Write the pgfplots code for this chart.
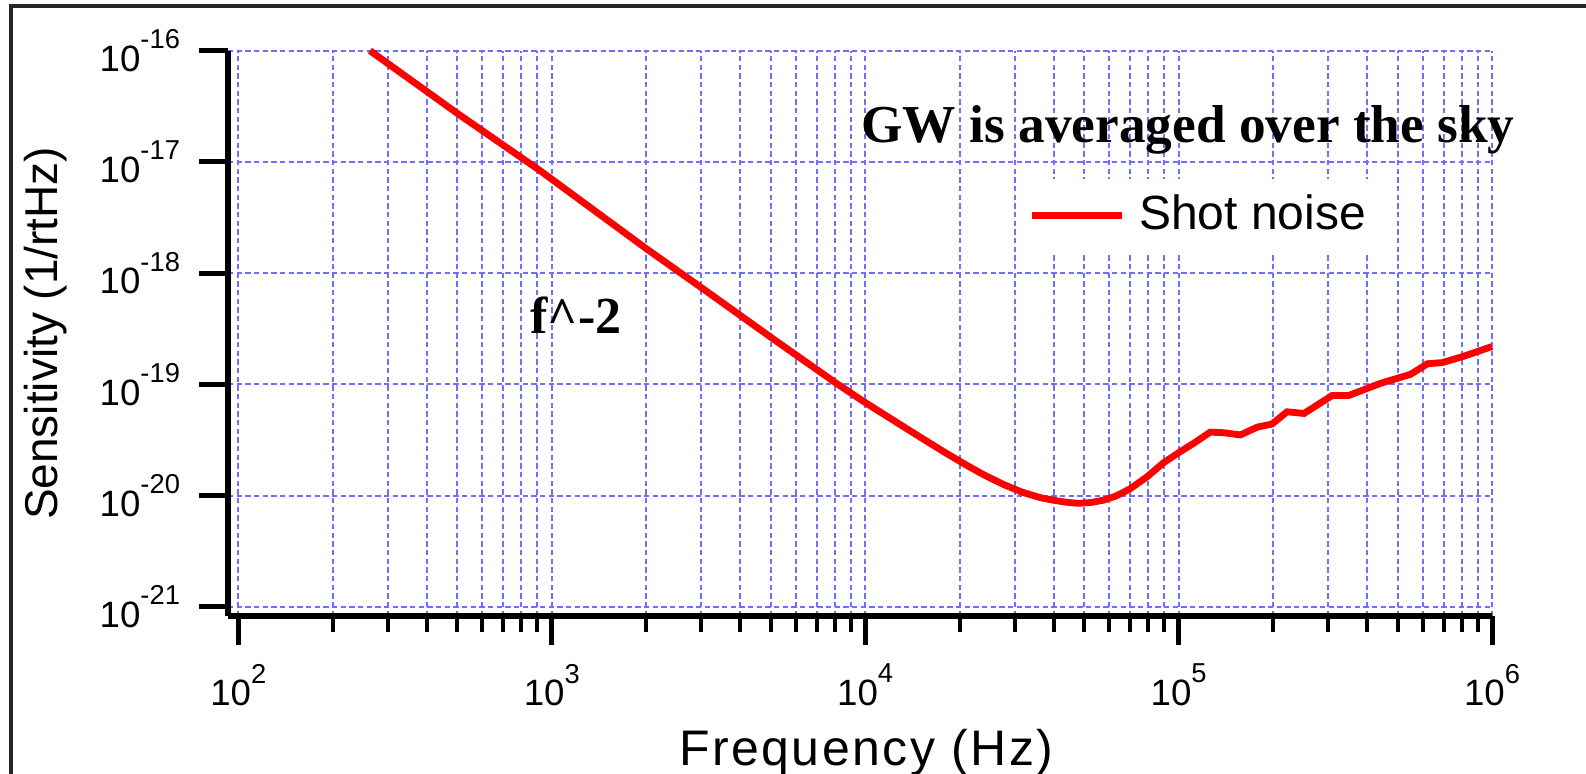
\documentclass[border=0pt]{standalone}
\usepackage{fontspec}
\setmainfont{Liberation Sans}
\newfontfamily\serifbf{Liberation Serif}
\usepackage{pgfplots}
\pgfplotsset{compat=1.18}
\definecolor{gridblue}{RGB}{110,110,255}
\definecolor{curvered}{RGB}{255,0,0}
\newcommand{\pw}[1]{10\raisebox{6.8pt}{\fontsize{8.2}{9}\selectfont #1}}

\begin{document}
\begin{tikzpicture}
\draw[line width=1.2pt, black!85] (3.15pt,-232.2pt) -- (3.15pt,-1.8pt) -- (475.8pt,-1.8pt);
\begin{axis}[
  at={(68.4pt,-184.8pt)}, anchor=south west,
  scale only axis, width=379.2pt, height=169.6pt,
  xmode=log, ymode=log,
  xmin=92.7, xmax=1e6, ymin=8.25e-22, ymax=1e-16,
  axis x line*=bottom, axis y line*=left,
  axis line style={line width=1.6pt, black},
  xtick={1e2,1e3,1e4,1e5,1e6},
  xticklabels={\pw{2},\pw{3},\pw{4},\pw{5},\pw{6}},
  ytick={1e-21,1e-20,1e-19,1e-18,1e-17,1e-16},
  yticklabels={\pw{-21},\pw{-20},\pw{-19},\pw{-18},\pw{-17},\pw{-16}},
  yminorticks=false,
  xtick pos=left, ytick pos=left,
  tick align=outside,
  major tick length=8.7pt, minor tick length=4.75pt,
  major tick style={line width=1.5pt, black},
  minor tick style={line width=1.2pt, black},
  xmajorgrids, xminorgrids, ymajorgrids,
  major grid style={gridblue, line width=0.6pt, dash pattern=on 1.6pt off 1pt},
  minor grid style={gridblue, line width=0.6pt, dash pattern=on 1.6pt off 1pt},
  tick label style={font=\fontsize{11}{13}\selectfont},
  xticklabel style={yshift=-2.2pt},
  yticklabel style={xshift=-2.2pt},
  xlabel={Frequency (Hz)}, ylabel={Sensitivity (1/rtHz)},
  every axis x label/.style={at={(axis description cs:0.505,-0.2635)}, anchor=base, font=\fontsize{15}{17}\selectfont\addfontfeatures{LetterSpace=5}},
  every axis y label/.style={at={(axis description cs:-0.144,0.5)}, rotate=90, anchor=center, font=\fontsize{13.8}{16}\selectfont},
  legend style={at={(axis description cs:0.6298,0.7092)}, anchor=west, draw=none, fill=white, inner xsep=1pt, inner ysep=3pt, font=\fontsize{14.4}{16}\selectfont, column sep=2.2pt},
  legend image code/.code={\draw[#1, line width=2.1pt] (0pt,0pt) -- (27pt,0pt);},
  clip=false,
]
\addplot[curvered, line width=2.05pt] table {
x y
263.0 1.0e-16
501.2 2.716e-17
914.1 8.414e-18
2004.5 1.656e-18
3040.9 7.211e-19
5093.3 2.553e-19
8109.6 1.016e-19
10000 6.855e-20
11749 5.152e-20
13583 3.981e-20
15849 3.034e-20
18197 2.388e-20
20893 1.897e-20
23988 1.528e-20
27542 1.262e-20
31623 1.074e-20
36308 9.550e-21
39811 9.078e-21
43652 8.710e-21
47863 8.511e-21
52481 8.650e-21
57544 9.078e-21
63096 9.886e-21
69984 1.148e-20
79433 1.479e-20
89536 1.972e-20
100000 2.427e-20
111686 2.951e-20
126183 3.715e-20
139000 3.673e-20
157398 3.508e-20
178238 4.121e-20
198609 4.395e-20
221820 5.662e-20
251189 5.470e-20
309030 7.943e-20
349140 7.943e-20
441570 1.023e-19
549541 1.230e-19
622300 1.531e-19
693426 1.567e-19
807235 1.778e-19
1000000 2.188e-19
};
\addlegendentry{Shot noise}
\node[font={\serifbf\bfseries\fontsize{16}{18}\selectfont}, anchor=base, inner sep=0pt] at (axis description cs:0.7595,0.8383) {GW is averaged over the sky};
\node[font={\serifbf\bfseries\fontsize{15.6}{18}\selectfont}, anchor=base, inner sep=0pt] at (axis description cs:0.2753,0.5005) {f\textasciicircum-2};
\end{axis}
\pgfresetboundingbox
\path (0pt,0pt) rectangle (475.8pt,-232.2pt);
\end{tikzpicture}
\end{document}
